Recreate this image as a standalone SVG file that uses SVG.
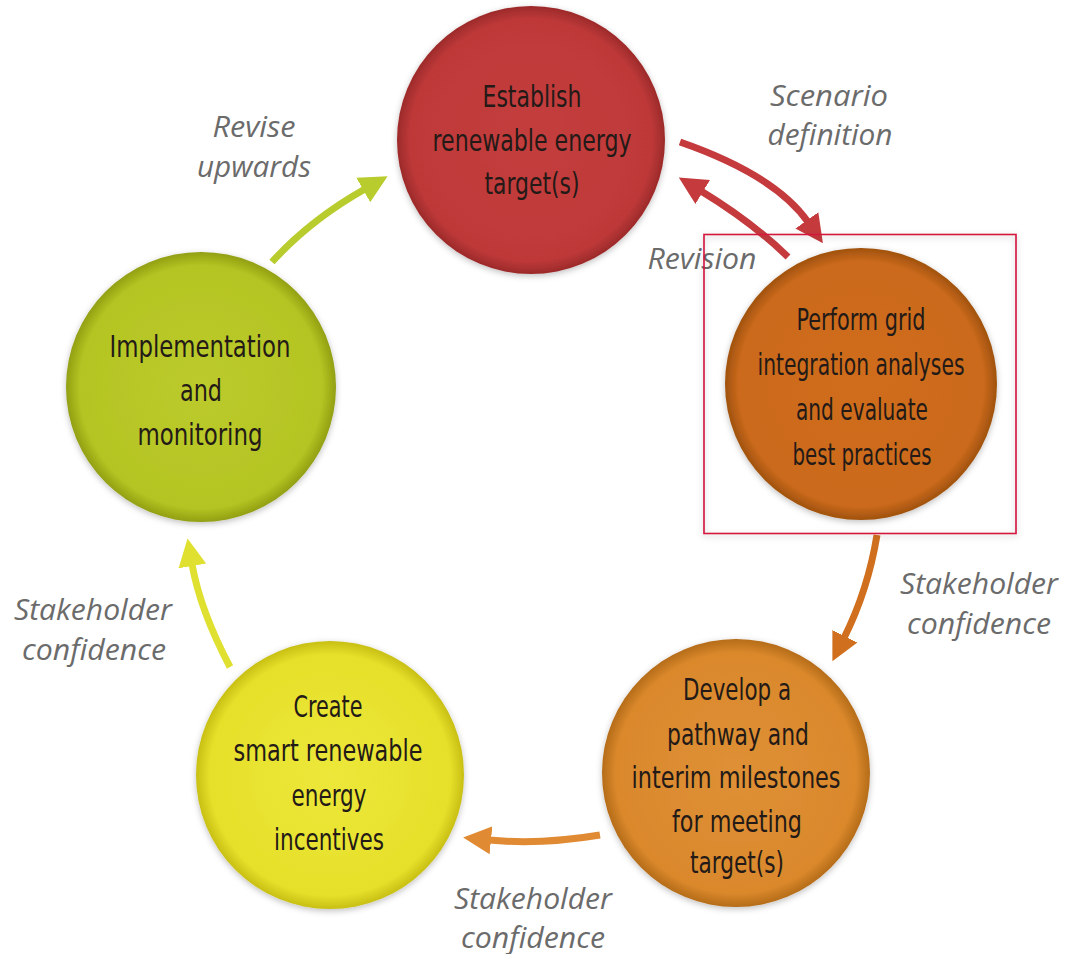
<svg xmlns="http://www.w3.org/2000/svg" width="1065" height="954" viewBox="0 0 1065 954">
<style>
.node-text{font-family:"Liberation Sans Narrow","DejaVu Sans Condensed","Liberation Sans",sans-serif;font-size:30px;fill:#231a17;text-anchor:middle}
.label{font-family:"Open Sans","Liberation Sans",sans-serif;font-style:italic;font-size:29px;fill:#6b6b6b;text-anchor:middle}
.arrow{fill:none;stroke-width:7;stroke-linecap:butt}
</style>
<defs>
<filter id="sh" x="-20%" y="-20%" width="140%" height="140%"><feDropShadow dx="0" dy="2" stdDeviation="3" flood-color="#000" flood-opacity="0.25"/></filter>
<radialGradient id="gRed" cx="50%" cy="50%" r="50%"><stop offset="0" stop-color="#c43d3d"/><stop offset="0.9" stop-color="#bf3939"/><stop offset="1" stop-color="#9c2a2a"/></radialGradient>
<radialGradient id="gOr" cx="50%" cy="50%" r="50%"><stop offset="0" stop-color="#d06d1f"/><stop offset="0.9" stop-color="#cb6a1c"/><stop offset="1" stop-color="#a0520e"/></radialGradient>
<radialGradient id="gDev" cx="50%" cy="50%" r="50%"><stop offset="0" stop-color="#df9035"/><stop offset="0.9" stop-color="#da882c"/><stop offset="1" stop-color="#b56c18"/></radialGradient>
<radialGradient id="gCr" cx="50%" cy="50%" r="50%"><stop offset="0" stop-color="#ede73a"/><stop offset="0.9" stop-color="#e6e02a"/><stop offset="1" stop-color="#c8bf14"/></radialGradient>
<radialGradient id="gImp" cx="50%" cy="50%" r="50%"><stop offset="0" stop-color="#bccb2c"/><stop offset="0.9" stop-color="#b4c422"/><stop offset="1" stop-color="#929f12"/></radialGradient>
<marker id="mRed" viewBox="0 0 30 30" markerUnits="userSpaceOnUse" markerWidth="30" markerHeight="30" refX="2" refY="15" orient="auto"><path d="M0,1 L28,15 L0,29 Z" fill="#c53a3d"/></marker>
<marker id="mOr" viewBox="0 0 30 30" markerUnits="userSpaceOnUse" markerWidth="30" markerHeight="30" refX="2" refY="15" orient="auto"><path d="M0,1 L28,15 L0,29 Z" fill="#d0701e"/></marker>
<marker id="mDev" viewBox="0 0 30 30" markerUnits="userSpaceOnUse" markerWidth="30" markerHeight="30" refX="2" refY="15" orient="auto"><path d="M0,1 L28,15 L0,29 Z" fill="#e08a34"/></marker>
<marker id="mYel" viewBox="0 0 30 30" markerUnits="userSpaceOnUse" markerWidth="30" markerHeight="30" refX="2" refY="15" orient="auto"><path d="M0,1 L28,15 L0,29 Z" fill="#dfe030"/></marker>
<marker id="mGrn" viewBox="0 0 30 30" markerUnits="userSpaceOnUse" markerWidth="30" markerHeight="30" refX="2" refY="15" orient="auto"><path d="M0,1 L28,15 L0,29 Z" fill="#b9cc2e"/></marker>
</defs>
<rect width="1065" height="954" fill="#ffffff"/>

<g id="connectors">
<path class="arrow" d="M680,142 Q775,175 808,222" stroke="#c53a3d" marker-end="url(#mRed)"/>
<path class="arrow" d="M788,257 Q752,222 701,191" stroke="#c53a3d" marker-end="url(#mRed)"/>
<path class="arrow" d="M877,535 Q868,590 844,638" stroke="#d0701e" marker-end="url(#mOr)"/>
<path class="arrow" d="M600,835 Q540,845 489,840" stroke="#e08a34" marker-end="url(#mDev)"/>
<path class="arrow" d="M230,667 Q200,610 192,564" stroke="#dfe030" marker-end="url(#mYel)"/>
<path class="arrow" d="M272,262 Q310,220 365,189" stroke="#b9cc2e" marker-end="url(#mGrn)"/>
</g>

<g id="labels">
<text class="label" x="254" y="137" textLength="83" lengthAdjust="spacingAndGlyphs">Revise</text>
<text class="label" x="254" y="177" textLength="114" lengthAdjust="spacingAndGlyphs">upwards</text>
<text class="label" x="829" y="106" textLength="118" lengthAdjust="spacingAndGlyphs">Scenario</text>
<text class="label" x="830" y="145" textLength="125" lengthAdjust="spacingAndGlyphs">definition</text>
<text class="label" x="702" y="269" textLength="109" lengthAdjust="spacingAndGlyphs">Revision</text>
<text class="label" x="979" y="594" textLength="158" lengthAdjust="spacingAndGlyphs">Stakeholder</text>
<text class="label" x="979" y="634" textLength="144" lengthAdjust="spacingAndGlyphs">confidence</text>
<text class="label" x="533" y="909" textLength="158" lengthAdjust="spacingAndGlyphs">Stakeholder</text>
<text class="label" x="533" y="948" textLength="144" lengthAdjust="spacingAndGlyphs">confidence</text>
<text class="label" x="93" y="620" textLength="158" lengthAdjust="spacingAndGlyphs">Stakeholder</text>
<text class="label" x="94" y="660" textLength="144" lengthAdjust="spacingAndGlyphs">confidence</text>
</g>

<g id="node-establish">
<circle cx="531" cy="140" r="134" fill="url(#gRed)" filter="url(#sh)"/>
<text class="node-text" x="532" y="107" textLength="99" lengthAdjust="spacingAndGlyphs">Establish</text>
<text class="node-text" x="532" y="151" textLength="199" lengthAdjust="spacingAndGlyphs">renewable energy</text>
<text class="node-text" x="532" y="194" textLength="95" lengthAdjust="spacingAndGlyphs">target(s)</text>
</g>

<g id="node-perform">
<circle cx="861" cy="384" r="136" fill="url(#gOr)" filter="url(#sh)"/>
<text class="node-text" x="861" y="330" textLength="129" lengthAdjust="spacingAndGlyphs">Perform grid</text>
<text class="node-text" x="861" y="375" textLength="207" lengthAdjust="spacingAndGlyphs">integration analyses</text>
<text class="node-text" x="862" y="420" textLength="132" lengthAdjust="spacingAndGlyphs">and evaluate</text>
<text class="node-text" x="862" y="465" textLength="139" lengthAdjust="spacingAndGlyphs">best practices</text>
</g>

<g id="highlight">
<rect x="704" y="234.5" width="312" height="299" fill="none" stroke="#d2143c" stroke-width="1.6" filter="url(#sh)"/>
</g>

<g id="node-develop">
<circle cx="736" cy="773" r="134" fill="url(#gDev)" filter="url(#sh)"/>
<text class="node-text" x="737" y="700" textLength="108" lengthAdjust="spacingAndGlyphs">Develop a</text>
<text class="node-text" x="738" y="745" textLength="142" lengthAdjust="spacingAndGlyphs">pathway and</text>
<text class="node-text" x="736" y="788" textLength="209" lengthAdjust="spacingAndGlyphs">interim milestones</text>
<text class="node-text" x="737" y="832" textLength="130" lengthAdjust="spacingAndGlyphs">for meeting</text>
<text class="node-text" x="737" y="873" textLength="94" lengthAdjust="spacingAndGlyphs">target(s)</text>
</g>

<g id="node-create">
<circle cx="330" cy="775" r="134" fill="url(#gCr)" filter="url(#sh)"/>
<text class="node-text" x="328" y="717" textLength="69" lengthAdjust="spacingAndGlyphs">Create</text>
<text class="node-text" x="328" y="761" textLength="189" lengthAdjust="spacingAndGlyphs">smart renewable</text>
<text class="node-text" x="329" y="806" textLength="75" lengthAdjust="spacingAndGlyphs">energy</text>
<text class="node-text" x="329" y="850" textLength="110" lengthAdjust="spacingAndGlyphs">incentives</text>
</g>

<g id="node-implementation">
<circle cx="201" cy="387" r="135" fill="url(#gImp)" filter="url(#sh)"/>
<text class="node-text" x="200" y="357" textLength="181" lengthAdjust="spacingAndGlyphs">Implementation</text>
<text class="node-text" x="201" y="401" textLength="42" lengthAdjust="spacingAndGlyphs">and</text>
<text class="node-text" x="200" y="445" textLength="125" lengthAdjust="spacingAndGlyphs">monitoring</text>
</g>
</svg>
